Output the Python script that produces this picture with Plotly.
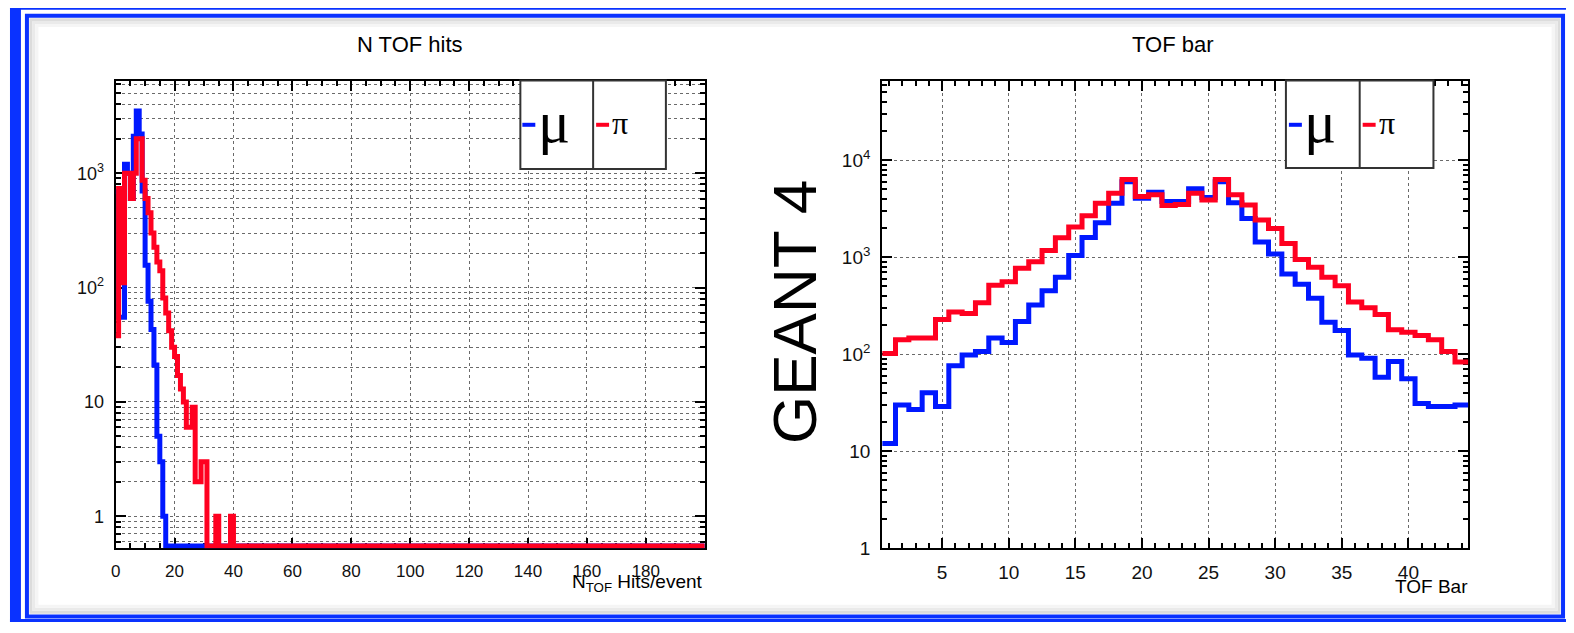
import plotly.graph_objects as go

W, H = 1574, 633

# ---------------- data ----------------
# Left panel: "N TOF hits", bins of width 1 from 0 to 200
NHITS_LO, NHITS_HI, NHITS_BINW = 0, 200, 1
mu_nhits_nonzero = [690, 55, 55, 1200, 1000, 600, 2100, 3500, 2200, 700,
                    157, 76, 43, 21, 5, 3, 1]
pi_nhits_nonzero = [38, 735, 110, 1000, 1000, 600, 1000, 2000, 2000, 870,
                    600, 450, 300, 225, 167, 140, 81, 60, 42, 30,
                    25, 17, 13, 10, 6, 6, 9, 2, 2, 3,
                    3, 0, 0, 0, 1, 0, 0, 0, 0, 1]
N_NHITS = (NHITS_HI - NHITS_LO) // NHITS_BINW
mu_nhits = mu_nhits_nonzero + [0] * (N_NHITS - len(mu_nhits_nonzero))
pi_nhits = pi_nhits_nonzero + [0] * (N_NHITS - len(pi_nhits_nonzero))

# Right panel: "TOF bar", bars 1..44
tof_bars = list(range(1, 45))
mu_bar = [12, 30, 27, 40, 29, 76, 98, 107, 147, 132,
          218, 321, 450, 620, 1040, 1600, 2260, 3600, 6000, 4050,
          4680, 3740, 3740, 5070, 4120, 6000, 3650, 2500, 1430, 1080,
          670, 527, 377, 214, 176, 98, 91, 58, 84, 56,
          31, 29, 29, 30]
pi_bar = [102, 141, 147, 147, 228, 272, 263, 340, 515, 558,
          767, 900, 1170, 1590, 2050, 2670, 3600, 4570, 6300, 4220,
          4390, 3400, 3500, 4570, 3890, 6300, 4390, 3450, 2410, 1970,
          1380, 946, 787, 620, 507, 345, 302, 257, 179, 168,
          156, 141, 107, 83]

left_title = "N TOF hits"
right_title = "TOF bar"
left_xtitle = "N<sub>TOF</sub> Hits/event"
right_xtitle = "TOF Bar"
side_label = "GEANT 4"

# ---------------- layout helpers ----------------
def px(x):
    return x / W

def py(y):
    return 1 - y / H

LEFT_YMIN_LOG, LEFT_YMAX_LOG = -0.28, 3.81
RIGHT_YMIN_LOG, RIGHT_YMAX_LOG = 0.0, 4.82


def step(edges, vals, floor):
    xs = list(edges[:-1]) + [edges[-1]]
    ys = [v if v > 0 else floor for v in vals] + [vals[-1] if vals[-1] > 0 else floor]
    return xs, ys


BLUE = "#0018ff"
RED = "#ff0020"
LW = 5

fig = go.Figure()

nh_edges = [NHITS_LO + i * NHITS_BINW for i in range(N_NHITS + 1)]
lfloor = 10 ** (LEFT_YMIN_LOG + 0.02)   # empty bins drawn on the axis floor (ROOT style)
for vals, col in ((mu_nhits, BLUE), (pi_nhits, RED)):
    xs, ys = step(nh_edges, vals, lfloor)
    fig.add_trace(go.Scatter(x=xs, y=ys, mode="lines", line=dict(color=col, width=LW, shape="hv"),
                             xaxis="x", yaxis="y", showlegend=False))

bar_edges = [b - 0.5 for b in tof_bars] + [tof_bars[-1] + 0.5]
for vals, col in ((mu_bar, BLUE), (pi_bar, RED)):
    xs, ys = step(bar_edges, vals, 1)
    fig.add_trace(go.Scatter(x=xs, y=ys, mode="lines", line=dict(color=col, width=LW, shape="hv"),
                             xaxis="x2", yaxis="y2", showlegend=False))

FONT = "Liberation Sans, Arial, sans-serif"
SERIF = "Liberation Serif, Times New Roman, serif"
common = dict(showline=True, linecolor="black", linewidth=2, mirror="allticks",
              ticks="inside", tickcolor="black", tickwidth=1.5, ticklen=10,
              showgrid=True, gridcolor="#6a6a6a", griddash="dot", gridwidth=1,
              zeroline=False, layer="below traces")

PLOT_TOP, PLOT_BOT = 82, 558
ydom = [py(PLOT_BOT), py(PLOT_TOP)]

def log_minors(lo, hi):
    out = []
    for d in range(int(lo) - 1, int(hi) + 1):
        for k in range(2, 10):
            v = k * 10 ** d
            if 10 ** lo <= v <= 10 ** hi:
                out.append(v)
    return out

left_major_x = list(range(0, 181, 20))
right_major_x = list(range(5, 41, 5))

# figure size comes from the page div (W x H), see write_html below
fig.update_layout(
    autosize=True,
    margin=dict(l=0, r=0, t=0, b=0, pad=0),
    paper_bgcolor="white", plot_bgcolor="white", showlegend=False,
    xaxis=dict(domain=[px(111), px(702)], range=[NHITS_LO, NHITS_HI], anchor="y",
               tickmode="array", tickvals=left_major_x, ticklabelstandoff=6,
               tickfont=dict(family=FONT, size=17, color="#111"),
               minor=dict(tickmode="array", tickvals=[v for v in range(5, 200, 5) if v % 20],
                          ticks="inside", ticklen=5, tickcolor="black", showgrid=False),
               **common),
    yaxis=dict(domain=ydom, type="log", range=[LEFT_YMIN_LOG, LEFT_YMAX_LOG], anchor="x",
               tickmode="array", tickvals=[1, 10, 100, 1000],
               ticktext=["1", "10", "10<sup>2</sup>", "10<sup>3</sup>"], ticklabelstandoff=6,
               tickfont=dict(family=FONT, size=18, color="#111"),
               minor=dict(tickmode="array", tickvals=log_minors(LEFT_YMIN_LOG, LEFT_YMAX_LOG),
                          ticks="inside", ticklen=5, tickcolor="black", showgrid=True,
                          gridcolor="#6a6a6a", griddash="dot", gridwidth=1),
               **common),
    xaxis2=dict(domain=[px(880), px(1468)], range=[bar_edges[0], bar_edges[-1]], anchor="y2",
                tickmode="array", tickvals=right_major_x, ticklabelstandoff=6,
                tickfont=dict(family=FONT, size=19, color="#111"),
                minor=dict(tickmode="array", tickvals=[b for b in tof_bars if b % 5],
                           ticks="inside", ticklen=5, tickcolor="black", showgrid=False),
                **common),
    yaxis2=dict(domain=ydom, type="log", range=[RIGHT_YMIN_LOG, RIGHT_YMAX_LOG], anchor="x2",
                tickmode="array", tickvals=[1, 10, 100, 1000, 10000],
                ticktext=["1", "10", "10<sup>2</sup>", "10<sup>3</sup>", "10<sup>4</sup>"],
                ticklabelstandoff=6,
                tickfont=dict(family=FONT, size=19, color="#111"),
                minor=dict(tickmode="array", tickvals=log_minors(RIGHT_YMIN_LOG, RIGHT_YMAX_LOG),
                           ticks="inside", ticklen=5, tickcolor="black", showgrid=False),
                **common),
)

shapes = []
BORDER = "#0a32ff"
# outer thick blue frame
for x0, y0, x1, y1 in ((5, 0, W, 10), (5, 0, 16, H), (1568, 0, W, H), (5, 630, W, H)):
    shapes.append(dict(type="rect", xref="paper", yref="paper", x0=px(x0), x1=px(x1),
                       y0=py(y1), y1=py(y0), fillcolor=BORDER, line=dict(width=0), layer="below"))
# soft shadow inside inner frame
for inset, col in ((4, "#dcdcdc"), (7, "#eaeaea"), (10, "#f5f5f5")):
    shapes.append(dict(type="rect", xref="paper", yref="paper", x0=px(22 + inset), x1=px(1563 - inset),
                       y0=py(627 - inset), y1=py(16 + inset), line=dict(color=col, width=3), layer="below"))
# thin inner blue frame
shapes.append(dict(type="rect", xref="paper", yref="paper", x0=px(22), x1=px(1563),
                   y0=py(627.5), y1=py(16), line=dict(color=BORDER, width=4), layer="below"))

annotations = []
# legends
for (x0, xm, x1, y0, y1, dash_mu, dash_pi, mu_x, pi_x) in (
        (517, 590, 663, 82, 172, (519, 532), (593, 606), 533, 607),
        (1285, 1359, 1433, 82, 171, (1288, 1301), (1362, 1375), 1301, 1376)):
    shapes.append(dict(type="rect", xref="paper", yref="paper", x0=px(x0), x1=px(x1),
                       y0=py(y1), y1=py(y0), fillcolor="white", line=dict(color="#333", width=2)))
    shapes.append(dict(type="line", xref="paper", yref="paper", x0=px(xm), x1=px(xm),
                       y0=py(y1), y1=py(y0), line=dict(color="#333", width=2)))
    shapes.append(dict(type="line", xref="paper", yref="paper", x0=px(dash_mu[0]), x1=px(dash_mu[1]),
                       y0=py(127), y1=py(127), line=dict(color=BLUE, width=4)))
    shapes.append(dict(type="line", xref="paper", yref="paper", x0=px(dash_pi[0]), x1=px(dash_pi[1]),
                       y0=py(127), y1=py(127), line=dict(color=RED, width=4)))
    annotations.append(dict(text="μ", x=px(mu_x), y=py(124), xref="paper", yref="paper",
                            xanchor="left", yanchor="middle", showarrow=False,
                            font=dict(family=SERIF, size=60, color="black")))
    annotations.append(dict(text="π", x=px(pi_x), y=py(125), xref="paper", yref="paper",
                            xanchor="left", yanchor="middle", showarrow=False,
                            font=dict(family=SERIF, size=32, color="black")))

annotations += [
    dict(text=left_title, x=px(406), y=py(45), xref="paper", yref="paper", showarrow=False,
         xanchor="center", yanchor="middle", font=dict(family=FONT, size=22, color="black")),
    dict(text=right_title, x=px(1172), y=py(45), xref="paper", yref="paper", showarrow=False,
         xanchor="center", yanchor="middle", font=dict(family=FONT, size=22, color="black")),
    dict(text=left_xtitle, x=px(702), y=py(593), xref="paper", yref="paper", showarrow=False,
         xanchor="right", yanchor="middle", font=dict(family=FONT, size=19, color="black")),
    dict(text=right_xtitle, x=px(1470), y=py(597), xref="paper", yref="paper", showarrow=False,
         xanchor="right", yanchor="middle", font=dict(family=FONT, size=19, color="black")),
    dict(text=side_label, x=px(792), y=py(317), xref="paper", yref="paper", showarrow=False,
         xanchor="center", yanchor="middle", textangle=-90,
         font=dict(family=FONT, size=62, color="black")),
]

fig.update_layout(shapes=shapes, annotations=annotations)

# The page body has an 8px default margin; a negative margin on the plot div cancels it
# so the W x H figure fills the window exactly from the top-left corner.
fig.write_html("out.html",
               config={"displayModeBar": False, "responsive": False},
               default_width=f"{W}px",
               default_height=f"{H}px;margin:-8px")
